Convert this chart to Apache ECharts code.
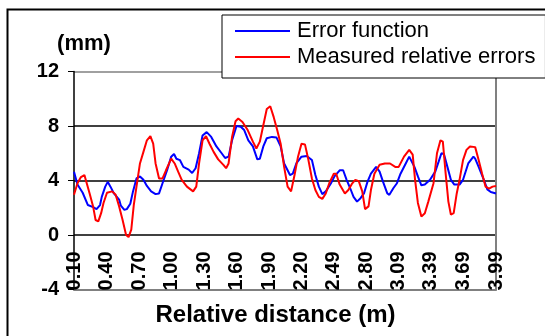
<!DOCTYPE html>
<html>
<head>
<meta charset="utf-8">
<script src="https://cdn.jsdelivr.net/npm/echarts@6/dist/echarts.min.js"></script>
<style>
  html, body { margin: 0; padding: 0; background: #fff; }
  #chart { width: 545px; height: 336px; }
</style>
</head>
<body>
<div id="chart"></div>
<script>
// x tick labels (m)
const tickLabels = ['0.10', '0.40', '0.70', '1.00', '1.30', '1.60', '1.90', '2.20', '2.49', '2.80', '3.09', '3.39', '3.69', '3.99'];

// Error function: distance (m) / value (mm)
const errorDist = [0.100, 0.132, 0.180, 0.228, 0.276, 0.308, 0.340, 0.356, 0.388, 0.411,
  0.436, 0.468, 0.516, 0.532, 0.564, 0.587, 0.619, 0.644, 0.676, 0.708,
  0.740, 0.772, 0.811, 0.852, 0.884, 0.916, 0.958, 0.996, 1.022, 1.044,
  1.076, 1.108, 1.157, 1.189, 1.221, 1.253, 1.285, 1.323, 1.365, 1.413,
  1.461, 1.493, 1.525, 1.557, 1.598, 1.637, 1.669, 1.707, 1.749, 1.790,
  1.813, 1.845, 1.877, 1.925, 1.967, 2.005, 2.037, 2.069, 2.091, 2.117,
  2.149, 2.197, 2.245, 2.293, 2.325, 2.357, 2.389, 2.421, 2.469, 2.501,
  2.549, 2.581, 2.613, 2.645, 2.677, 2.709, 2.741, 2.773, 2.805, 2.837,
  2.885, 2.917, 2.949, 2.988, 3.007, 3.045, 3.077, 3.110, 3.158, 3.190,
  3.206, 3.238, 3.270, 3.302, 3.334, 3.382, 3.430, 3.462, 3.487, 3.510,
  3.542, 3.574, 3.606, 3.654, 3.686, 3.734, 3.782, 3.798, 3.830, 3.878,
  3.910, 3.942, 3.990];
const errorVal = [4.65, 3.7, 3.1, 2.2, 2.05, 1.9, 2.2, 2.8, 3.55, 3.9,
  3.55, 3.05, 2.6, 2.15, 1.85, 1.9, 2.3, 3.2, 4.15, 4.3,
  4.05, 3.6, 3.2, 3.0, 3.05, 3.8, 4.75, 5.75, 5.95, 5.6,
  5.5, 5.0, 4.8, 4.55, 4.9, 6.0, 7.3, 7.55, 7.2, 6.5,
  6.0, 5.65, 5.75, 6.95, 8.0, 7.95, 7.7, 6.95, 6.5, 5.55,
  5.6, 6.5, 7.1, 7.2, 7.15, 6.5, 5.25, 4.75, 4.4, 4.5,
  5.25, 5.75, 5.8, 5.5, 4.4, 3.55, 3.0, 3.2, 3.8, 4.3,
  4.75, 4.75, 4.05, 3.45, 2.8, 2.45, 2.7, 3.05, 3.9, 4.5,
  5.0, 4.65, 3.9, 3.05, 2.95, 3.45, 3.8, 4.5, 5.25, 5.75,
  5.7, 5.0, 4.3, 3.65, 3.7, 4.05, 4.65, 5.4, 6.0, 5.95,
  5.0, 4.05, 3.7, 3.7, 4.05, 5.25, 5.75, 5.6, 5.0, 4.05,
  3.35, 3.15, 3.05];

// Measured relative errors: distance (m) / value (mm)
const measuredDist = [0.100, 0.132, 0.164, 0.196, 0.212, 0.244, 0.276, 0.299, 0.324, 0.350,
  0.372, 0.404, 0.452, 0.484, 0.516, 0.548, 0.580, 0.603, 0.628, 0.651,
  0.676, 0.708, 0.740, 0.772, 0.804, 0.830, 0.852, 0.884, 0.916, 0.948,
  0.996, 1.028, 1.060, 1.093, 1.141, 1.198, 1.227, 1.253, 1.285, 1.317,
  1.349, 1.387, 1.429, 1.477, 1.502, 1.525, 1.557, 1.589, 1.614, 1.653,
  1.701, 1.749, 1.781, 1.813, 1.845, 1.877, 1.909, 1.941, 1.973, 2.005,
  2.037, 2.069, 2.101, 2.133, 2.165, 2.197, 2.229, 2.261, 2.293, 2.325,
  2.357, 2.389, 2.421, 2.453, 2.495, 2.517, 2.549, 2.597, 2.629, 2.661,
  2.693, 2.725, 2.757, 2.783, 2.815, 2.837, 2.869, 2.917, 2.965, 3.013,
  3.061, 3.093, 3.142, 3.190, 3.222, 3.244, 3.270, 3.302, 3.334, 3.366,
  3.414, 3.446, 3.478, 3.500, 3.526, 3.551, 3.574, 3.600, 3.628, 3.654,
  3.686, 3.718, 3.750, 3.798, 3.830, 3.862, 3.894, 3.926, 3.958, 3.990];
const measuredVal = [2.95, 3.8, 4.25, 4.4, 4.3, 3.05, 2.1, 1.1, 1.0, 1.6,
  2.35, 3.1, 3.2, 2.95, 2.1, 1.1, 0.0, -0.15, 0.4, 2.2,
  3.55, 5.25, 6.1, 6.95, 7.25, 6.7, 5.25, 4.15, 4.15, 4.75,
  5.6, 5.25, 4.65, 4.05, 3.55, 3.2, 3.55, 5.25, 6.95, 7.25,
  6.7, 6.1, 5.55, 5.15, 4.9, 5.25, 7.2, 8.35, 8.55, 8.3,
  7.7, 6.85, 6.35, 6.85, 8.05, 9.25, 9.45, 8.65, 7.7, 6.7,
  5.0, 3.55, 3.2, 4.4, 5.75, 6.7, 6.65, 5.5, 4.15, 3.3,
  2.8, 2.65, 3.05, 3.8, 4.5, 4.5, 3.7, 3.05, 3.3, 3.75,
  4.05, 3.95, 3.2, 1.9, 2.1, 3.3, 4.5, 5.15, 5.25, 5.25,
  5.0, 5.0, 5.75, 6.25, 5.9, 4.05, 2.35, 1.35, 1.6, 2.45,
  3.8, 6.0, 6.95, 6.85, 4.5, 2.45, 1.5, 1.6, 3.05, 4.05,
  5.5, 6.25, 6.5, 6.45, 5.5, 4.5, 3.55, 3.4, 3.55, 3.6];

const font = 'Liberation Sans, Arial, sans-serif';
const borderGrey = '#808080';

const pairs = (xs, ys) => xs.map((x, i) => [x, ys[i]]);

const chart = echarts.init(document.getElementById('chart'), null, { renderer: 'canvas' });

chart.setOption({
  backgroundColor: '#fff',
  animation: false,
  textStyle: { fontFamily: font, color: '#000' },
  graphic: [{
    // outer chart frame
    type: 'rect',
    shape: { x: 7.5, y: 9.5, width: 600, height: 400 },
    style: { fill: 'none', stroke: '#000', lineWidth: 2 },
    z: -10
  }],
  legend: {
    left: 222,
    top: 15,
    orient: 'vertical',
    icon: 'rect',
    itemWidth: 55,
    itemHeight: 2,
    itemGap: 4,
    padding: [5, 10, 10, 13],
    backgroundColor: '#fff',
    borderColor: '#000',
    borderWidth: 1,
    borderRadius: 0,
    textStyle: { fontFamily: font, fontSize: 22, color: '#000', padding: [0, 0, 0, 2] },
    data: ['Error function', 'Measured relative errors']
  },
  grid: {
    left: 74,
    right: 49,
    top: 71.5,
    bottom: 46.5,
    outerBoundsMode: 'none',
    containLabel: false
  },
  xAxis: [{
    type: 'value',
    min: 0.10,
    max: 3.99,
    name: 'Relative distance (m)',
    nameLocation: 'middle',
    nameGap: 14,
    nameTextStyle: { fontFamily: font, fontSize: 24, fontWeight: 'bold', color: '#000', padding: [0, 19, 0, 0] },
    // axis line sits at the bottom as the grey plot border; the black zero line is a gridline
    axisLine: { onZero: false, lineStyle: { color: borderGrey, width: 2 } },
    axisTick: { show: false },
    splitLine: { show: false },
    axisLabel: {
      customValues: tickLabels.map(Number),
      formatter: v => v.toFixed(2),
      rotate: 90,
      margin: -38,
      fontFamily: font,
      fontSize: 20,
      fontWeight: 'bold',
      color: '#000'
    }
  }],
  yAxis: [{
    type: 'value',
    min: -4,
    max: 12,
    interval: 4,
    name: '(mm)',
    nameLocation: 'end',
    nameGap: 17,
    nameTextStyle: { fontFamily: font, fontSize: 22, fontWeight: 'bold', color: '#000', align: 'center', padding: [0, 0, 0, 20] },
    axisLine: { show: true, lineStyle: { color: '#000', width: 1.5 } },
    axisTick: { show: true, inside: false, length: 6, lineStyle: { color: '#000', width: 1 } },
    axisLabel: { margin: 15, fontFamily: font, fontSize: 20, fontWeight: 'bold', color: '#000' },
    splitLine: {
      show: true,
      showMinLine: false,
      showMaxLine: true,
      // 12 is the grey top border, the rest black gridlines
      lineStyle: { color: ['#000', '#000', '#000', borderGrey], width: 1.5 }
    }
  }, {
    // right plot border
    type: 'value',
    position: 'right',
    min: -4,
    max: 12,
    interval: 4,
    axisLine: { show: true, onZero: false, lineStyle: { color: borderGrey, width: 2 } },
    axisTick: { show: false },
    axisLabel: { show: false },
    splitLine: { show: false }
  }],
  series: [{
    name: 'Error function',
    type: 'line',
    data: pairs(errorDist, errorVal),
    showSymbol: false,
    symbol: 'none',
    lineStyle: { color: '#0000ff', width: 2 },
    itemStyle: { color: '#0000ff' }
  }, {
    name: 'Measured relative errors',
    type: 'line',
    data: pairs(measuredDist, measuredVal),
    showSymbol: false,
    symbol: 'none',
    lineStyle: { color: '#ff0000', width: 2 },
    itemStyle: { color: '#ff0000' }
  }]
});
</script>
</body>
</html>
